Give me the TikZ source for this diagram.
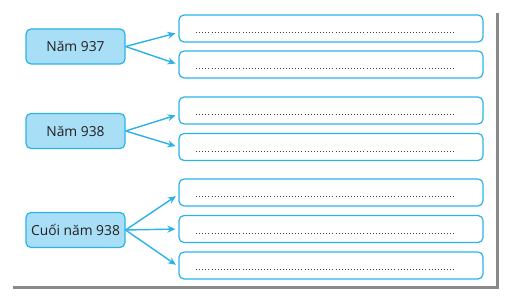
\documentclass[tikz,border=0pt]{standalone}
\usepackage{fontspec}
\setmainfont{Open Sans}
\definecolor{skyline}{HTML}{2BB3E6}
\definecolor{skyfill}{HTML}{A8DEF6}
\definecolor{inkgray}{HTML}{231F20}
\definecolor{edgegray}{HTML}{8A8A8A}
\usetikzlibrary{arrows.meta}

\begin{document}
\begin{tikzpicture}[x=1pt, y=-1pt,
  yearbox/.style={rectangle, draw=skyline, fill=skyfill, line width=1.2pt,
    text=inkgray, minimum width=99pt, minimum height=35pt, inner sep=0pt,
    font=\fontsize{13.8}{16}\selectfont, rounded corners=5pt},
  blankbox/.style={rectangle, draw=skyline, line width=1.2pt,
    minimum width=304pt, minimum height=27pt, rounded corners=5pt,
    path picture={\draw[inkgray!85, line width=0.9pt, dash pattern=on 0.8pt off 2.3pt]
      ([xshift=17pt,yshift=-4pt]path picture bounding box.west) --
      ([xshift=-28pt,yshift=-4pt]path picture bounding box.east);}},
  arr/.style={-{Stealth[length=8pt,width=7pt]}, skyline, line width=1.4pt, shorten >=3pt}
]
  \useasboundingbox (0,0) rectangle (506,296);
  % page edge
  \draw[edgegray, line width=3pt] (497.5,13) -- (497.5,287.5) -- (13,287.5);

  \node[yearbox] (y1) at (75.5,46.5) {Năm 937};
  \node[yearbox] (y2) at (75.5,131) {Năm 938};
  \node[yearbox] (y3) at (75.5,230) {Cuối năm 938};

  \node[blankbox] (b1) at (331,28.5) {};
  \node[blankbox] (b2) at (331,64.5) {};
  \node[blankbox] (b3) at (331,110.5) {};
  \node[blankbox] (b4) at (331,147) {};
  \node[blankbox] (b5) at (331,192.5) {};
  \node[blankbox] (b6) at (331,229) {};
  \node[blankbox] (b7) at (331,265.5) {};

  \draw[arr] (y1.east) -- ([yshift=-4pt]b1.west);
  \draw[arr] (y1.east) -- (b2.west);
  \draw[arr] (y2.east) -- ([yshift=-4pt]b3.west);
  \draw[arr] (y2.east) -- (b4.west);
  \draw[arr] (y3.east) -- ([yshift=-2pt]b5.west);
  \draw[arr] (y3.east) -- (b6.west);
  \draw[arr] (y3.east) -- ([yshift=-1pt]b7.west);
\end{tikzpicture}
\end{document}
